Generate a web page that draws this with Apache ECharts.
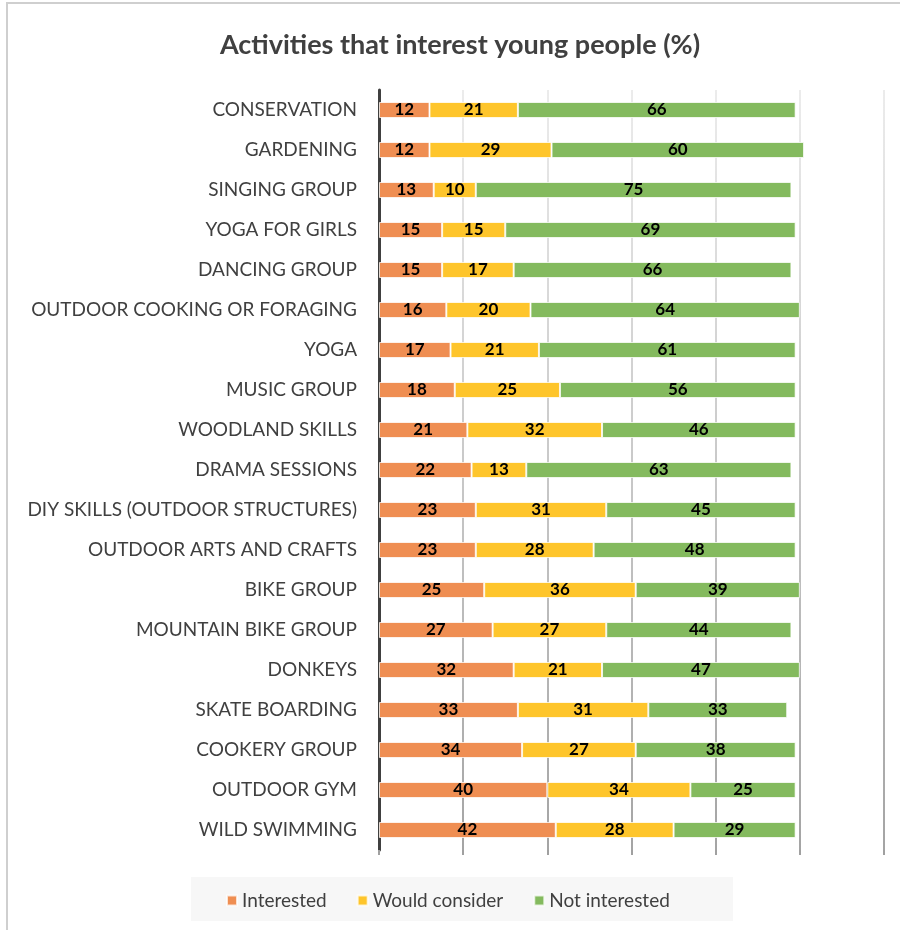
<!DOCTYPE html>
<html>
<head>
<meta charset="utf-8">
<script src="https://cdn.jsdelivr.net/npm/echarts@6/dist/echarts.min.js"></script>
<style>
  html, body { margin: 0; padding: 0; background: #ffffff; }
  #chart { width: 900px; height: 930px; }
</style>
</head>
<body>
<div id="chart"></div>
<script>
// Survey activities, listed top to bottom
const activities = [
  'CONSERVATION', 'GARDENING', 'SINGING GROUP', 'YOGA FOR GIRLS', 'DANCING GROUP',
  'OUTDOOR COOKING OR FORAGING', 'YOGA', 'MUSIC GROUP', 'WOODLAND SKILLS', 'DRAMA SESSIONS',
  'DIY SKILLS (OUTDOOR STRUCTURES)', 'OUTDOOR ARTS AND CRAFTS', 'BIKE GROUP', 'MOUNTAIN BIKE GROUP',
  'DONKEYS', 'SKATE BOARDING', 'COOKERY GROUP', 'OUTDOOR GYM', 'WILD SWIMMING'
];

// Percentages per response
const interested     = [12, 12, 13, 15, 15, 16, 17, 18, 21, 22, 23, 23, 25, 27, 32, 33, 34, 40, 42];
const wouldConsider  = [21, 29, 10, 15, 17, 20, 21, 25, 32, 13, 31, 28, 36, 27, 21, 31, 27, 34, 28];
const notInterested  = [66, 60, 75, 69, 66, 64, 61, 56, 46, 63, 45, 48, 39, 44, 47, 33, 38, 25, 29];

const seriesNames = ['Interested', 'Would consider', 'Not interested'];
const seriesColors = ['#ef8e52', '#fec52b', '#84ba5e'];

const FONT = 'Lato, "Open Sans", sans-serif';

const chart = echarts.init(document.getElementById('chart'), null, { renderer: 'canvas' });

function barSeries(name, data, color) {
  return {
    name: name,
    type: 'bar',
    stack: 'total',
    data: data,
    barWidth: 16,
    itemStyle: {
      color: color,
      borderColor: 'rgba(255,255,255,0.75)',
      borderWidth: 1
    },
    label: {
      show: true,
      position: 'inside',
      color: '#000000',
      fontFamily: FONT,
      fontWeight: 'bold',
      fontSize: 17
    }
  };
}

chart.setOption({
  animation: false,
  backgroundColor: '#ffffff',
  graphic: [
    {
      type: 'rect',
      z: -10,
      shape: { x: 7, y: 3, width: 920, height: 960 },
      style: { fill: 'none', stroke: '#cfcfcf', lineWidth: 2 }
    },
    {
      type: 'rect',
      z: -10,
      shape: { x: 191, y: 877, width: 542, height: 44 },
      style: { fill: '#f7f7f7' }
    },
    {
      type: 'text',
      x: 460,
      y: 45,
      style: {
        text: 'Activities that interest young people (%)',
        font: 'bold 27px ' + FONT,
        fill: '#404040',
        textAlign: 'center',
        textVerticalAlign: 'middle'
      }
    }
  ],
  legend: {
    data: seriesNames,
    left: 221,
    top: 886,
    itemWidth: 10,
    itemHeight: 10,
    itemGap: 30,
    icon: 'rect',
    textStyle: { fontFamily: FONT, fontSize: 19, color: '#404040' }
  },
  grid: { left: 379, right: 16, top: 90, bottom: 80, containLabel: false },
  xAxis: {
    type: 'value',
    min: 0,
    max: 120,
    interval: 20,
    axisLabel: { show: false },
    axisLine: { show: false },
    axisTick: { show: true, length: 5, lineStyle: { color: '#a0a0a0', width: 2 } },
    splitLine: {
      show: true,
      lineStyle: {
        width: 2,
        color: {
          type: 'linear', x: 0, y: 0, x2: 0, y2: 1,
          colorStops: [
            { offset: 0, color: '#ececec' },
            { offset: 1, color: '#a4a4a4' }
          ]
        }
      }
    }
  },
  yAxis: {
    type: 'category',
    data: activities,
    inverse: true,
    axisTick: { show: false },
    axisLine: { show: true, lineStyle: { color: '#404040', width: 3 } },
    axisLabel: { margin: 22, fontFamily: FONT, fontSize: 19, color: '#404040' }
  },
  series: [
    barSeries(seriesNames[0], interested, seriesColors[0]),
    barSeries(seriesNames[1], wouldConsider, seriesColors[1]),
    barSeries(seriesNames[2], notInterested, seriesColors[2])
  ]
});
</script>
</body>
</html>
